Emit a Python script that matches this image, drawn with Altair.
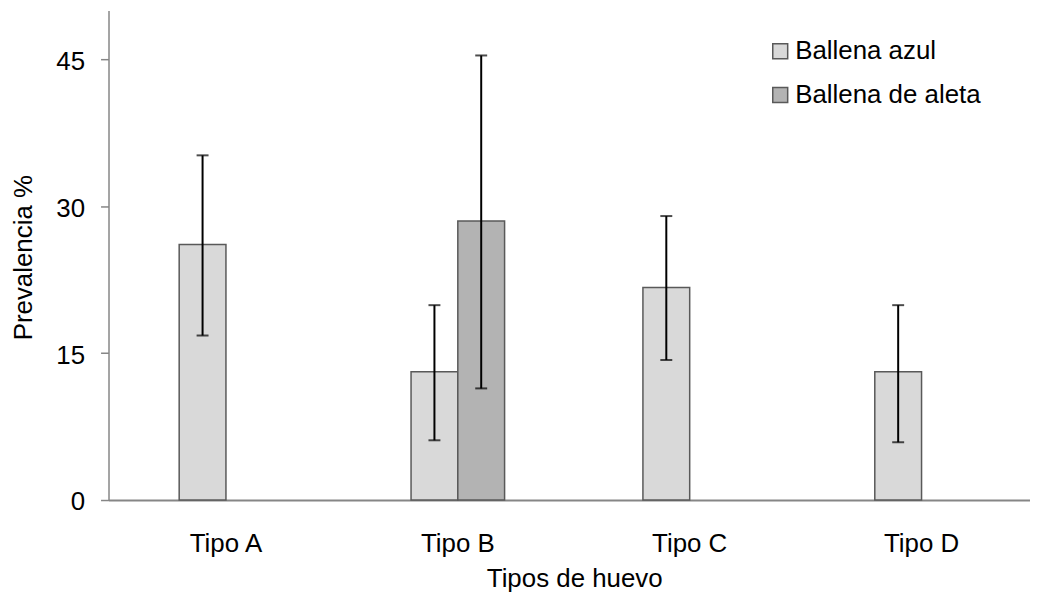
import altair as alt
import pandas as pd

# ---- data ----
tipos = ["Tipo A", "Tipo B", "Tipo C", "Tipo D"]
series = ["Ballena azul", "Ballena de aleta"]

azul_val = [26.1, 13.1, 21.7, 13.1]
azul_lo = [16.8, 6.1, 14.3, 5.9]
azul_hi = [35.2, 19.9, 29.0, 19.9]

aleta_tipos = ["Tipo B"]
aleta_val = [28.5]
aleta_lo = [11.4]
aleta_hi = [45.4]

y_ticks = [0, 15, 30, 45]
colors = ["#d9d9d9", "#b3b3b3"]

rows = []
for t, v, lo, hi in zip(tipos, azul_val, azul_lo, azul_hi):
    rows.append({"tipo": t, "serie": series[0], "valor": v, "lo": lo, "hi": hi})
for t, v, lo, hi in zip(aleta_tipos, aleta_val, aleta_lo, aleta_hi):
    rows.append({"tipo": t, "serie": series[1], "valor": v, "lo": lo, "hi": hi})
df = pd.DataFrame(rows)

FONT = "Liberation Sans, Arial, Helvetica, sans-serif"
FS = 26
W, H = 926, 492

x_enc = alt.X(
    "tipo:N",
    sort=tipos,
    scale=alt.Scale(domain=tipos, paddingInner=0.5966, paddingOuter=0.2854, align=0.534),
    axis=alt.Axis(
        title="Tipos de huevo",
        ticks=False,
        tickSize=0,
        labelAngle=0,
        labelFontSize=FS,
        labelBaseline="alphabetic",
        labelPadding=52,
        labelColor="black",
        domainColor="#868686",
        domainWidth=2,
        titleFontSize=FS,
        titleFontWeight="normal",
        titleColor="black",
        titleX=468,
        titleY=87,
        titleBaseline="alphabetic",
        titleAlign="center",
    ),
)
xoff = alt.XOffset("serie:N", scale=alt.Scale(domain=series, paddingInner=0, paddingOuter=0))
y_scale = alt.Scale(domain=[0, 50], nice=False, zero=True)
y_axis = alt.Axis(
    title="Prevalencia %",
    values=y_ticks,
    grid=False,
    tickSize=8,
    tickColor="#868686",
    tickWidth=1.5,
    domainColor="#868686",
    domainWidth=1.5,
    labelPadding=16,
    labelOffset=2,
    labelFontSize=FS,
    labelColor="black",
    titleFontSize=FS,
    titleFontWeight="normal",
    titleColor="black",
    titleAngle=270,
    titleX=-77,
    titleY=248,
    titleBaseline="alphabetic",
    titleAlign="center",
)

base = alt.Chart(df)

bars = base.mark_bar(stroke="#595959", strokeWidth=1.5).encode(
    x=x_enc,
    xOffset=xoff,
    y=alt.Y("valor:Q", scale=y_scale, axis=y_axis),
    color=alt.Color(
        "serie:N",
        scale=alt.Scale(domain=series, range=colors),
        legend=alt.Legend(
            title=None,
            orient="none",
            legendX=662,
            legendY=28,
            padding=0,
            symbolType="square",
            symbolSize=225,
            symbolStrokeColor="#595959",
            symbolStrokeWidth=1.5,
            labelFontSize=FS,
            labelColor="black",
            labelOffset=2,
            labelLimit=400,
            rowPadding=18,
        ),
    ),
)

rules = base.mark_rule(color="black", strokeWidth=2).encode(
    x=alt.X("tipo:N", sort=tipos),
    xOffset=alt.XOffset("serie:N"),
    y=alt.Y("lo:Q"),
    y2=alt.Y2("hi:Q"),
)

caps_hi = base.mark_tick(color="black", thickness=2, size=12).encode(
    x=alt.X("tipo:N", sort=tipos),
    xOffset=alt.XOffset("serie:N"),
    y=alt.Y("hi:Q"),
)
caps_lo = base.mark_tick(color="black", thickness=2, size=12).encode(
    x=alt.X("tipo:N", sort=tipos),
    xOffset=alt.XOffset("serie:N"),
    y=alt.Y("lo:Q"),
)

chart = (
    alt.layer(bars, rules, caps_hi, caps_lo)
    .properties(
        width=W,
        height=H,
        autosize=alt.AutoSizeParams(type="none"),
        padding={"left": 101, "top": 1, "right": 0, "bottom": 92},
    )
    .configure_view(stroke=None)
    .configure_axis(labelFont=FONT, titleFont=FONT)
    .configure_legend(labelFont=FONT)
)

chart.save("out.html", embed_options={"renderer": "svg", "actions": False})
